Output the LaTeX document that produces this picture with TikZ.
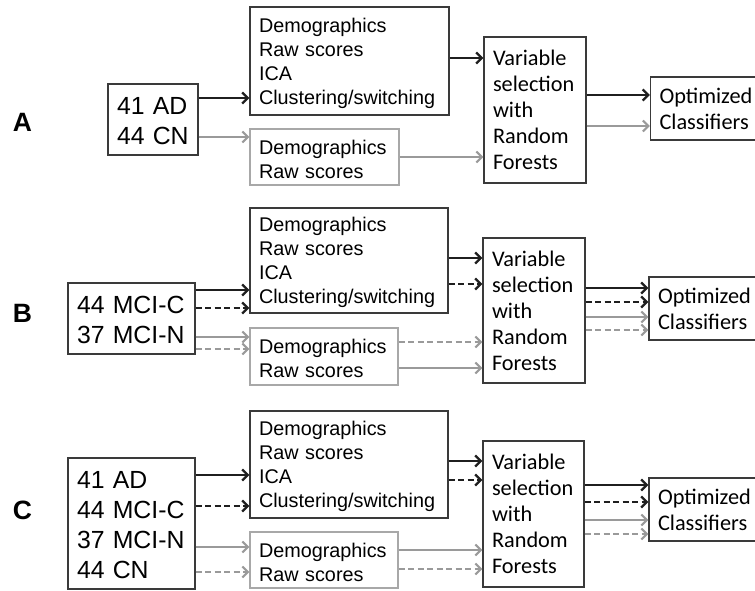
\documentclass[tikz,border=0pt]{standalone}
\usepackage{fontspec}
\setmainfont{Liberation Sans}
\newfontfamily\calf{Carlito}
\usetikzlibrary{arrows.meta}
\hyphenpenalty=10000
\exhyphenpenalty=10000
\definecolor{dk}{HTML}{3A3A3A}
\definecolor{lt}{HTML}{A8A8A8}
\definecolor{ga}{HTML}{9A9A9A}
\tikzset{
 box/.style={draw=dk, line width=1.4pt, inner xsep=9pt, inner ysep=0pt, align=left, anchor=center},
 lbox/.style={box, draw=lt},
 infont/.style={font=\fontsize{24.8}{30}\selectfont, execute at begin node={\rule{0pt}{21pt}}},
 ftfont/.style={font=\fontsize{19.8}{24}\selectfont, execute at begin node={\rule{0pt}{19pt}}},
 cafont/.style={font=\calf\fontsize{22.3}{26}\selectfont},
 arr/.style={line width=2.3pt, -{Straight Barb[length=5.5pt,width=11pt]}},
 blk/.style={arr, draw=black!88},
 gry/.style={arr, draw=ga, line width=2.1pt},
 dsh/.style={dash pattern=on 6pt off 3.5pt},
 plab/.style={font=\bfseries\fontsize{26.5}{30}\selectfont, inner sep=0pt},
}
\begin{document}
\begin{tikzpicture}[x=1pt,y=-1pt]
\useasboundingbox (0,0) rectangle (755,591);
\clip (0,0) rectangle (755,591);
% ---------------- Panel A ----------------
\node[plab] (labA) at (22.5,122) {A};
\node[box,infont,text width=72pt,minimum height=71pt] (inA) at (153,119.5) {41 AD\\44 CN};
\node[box,ftfont,text width=181pt,minimum height=108pt] (topA) at (349.5,61) {Demographics\\Raw scores\\ICA\\Clustering/switching};
\node[lbox,ftfont,text width=131pt,minimum height=56pt] (grA) at (324.5,157) {Demographics\\Raw scores};
\node[box,cafont,text width=84pt,minimum height=146pt] (varA) at (535,110) {Variable\\selection\\with\\Random\\Forests};
\node[box,cafont,text width=95pt,minimum height=63pt] (optA) at (707,108.5) {Optimized\\Classifiers};
\draw[blk] (inA.east |- 0,98) -- (topA.west |- 0,98);
\draw[gry] (inA.east |- 0,137) -- (grA.west |- 0,137);
\draw[blk] (topA.east |- 0,58) -- (varA.west |- 0,58);
\draw[gry] (grA.east |- 0,157) -- (varA.west |- 0,157);
\draw[blk] (varA.east |- 0,95) -- (optA.west |- 0,95);
\draw[gry] (varA.east |- 0,126) -- (optA.west |- 0,126);
% ---------------- Panel B ----------------
\node[plab] (labB) at (22.5,313) {B};
\node[box,infont,text width=109pt,minimum height=71pt] (inB) at (131.5,318.5) {44 MCI-C\\37 MCI-N};
\node[box,ftfont,text width=180pt,minimum height=105pt] (topB) at (349,260.5) {Demographics\\Raw scores\\ICA\\Clustering/switching};
\node[lbox,ftfont,text width=130pt,minimum height=57pt] (grB) at (324,356.5) {Demographics\\Raw scores};
\node[box,cafont,text width=84pt,minimum height=145pt] (varB) at (534,310.5) {Variable\\selection\\with\\Random\\Forests};
\node[box,cafont,text width=95pt,minimum height=63pt] (optB) at (705.5,308.5) {Optimized\\Classifiers};
\draw[blk] (inB.east |- 0,290) -- (topB.west |- 0,290);
\draw[blk,dsh] (inB.east |- 0,308) -- (topB.west |- 0,308);
\draw[gry] (inB.east |- 0,337) -- (grB.west |- 0,337);
\draw[gry,dsh] (inB.east |- 0,349) -- (grB.west |- 0,349);
\draw[blk] (topB.east |- 0,258) -- (varB.west |- 0,258);
\draw[blk,dsh] (topB.east |- 0,284) -- (varB.west |- 0,284);
\draw[gry,dsh] (grB.east |- 0,342) -- (varB.west |- 0,342);
\draw[gry] (grB.east |- 0,368) -- (varB.west |- 0,368);
\draw[blk] (varB.east |- 0,288) -- (optB.west |- 0,288);
\draw[blk,dsh] (varB.east |- 0,302) -- (optB.west |- 0,302);
\draw[gry] (varB.east |- 0,317) -- (optB.west |- 0,317);
\draw[gry,dsh] (varB.east |- 0,330) -- (optB.west |- 0,330);
% ---------------- Panel C ----------------
\node[plab] (labC) at (22.5,510) {C};
\node[box,infont,text width=109pt,minimum height=131pt] (inC) at (131.5,523.5) {41 AD\\44 MCI-C\\37 MCI-N\\44 CN};
\node[box,ftfont,text width=180pt,minimum height=107pt] (topC) at (349,464.5) {Demographics\\Raw scores\\ICA\\Clustering/switching};
\node[lbox,ftfont,text width=130pt,minimum height=56pt] (grC) at (324,560) {Demographics\\Raw scores};
\node[box,cafont,text width=83pt,minimum height=146pt] (varC) at (533.5,514) {Variable\\selection\\with\\Random\\Forests};
\node[box,cafont,text width=95pt,minimum height=63pt] (optC) at (705.5,509.5) {Optimized\\Classifiers};
\draw[blk] (inC.east |- 0,475) -- (topC.west |- 0,475);
\draw[blk,dsh] (inC.east |- 0,506) -- (topC.west |- 0,506);
\draw[gry] (inC.east |- 0,547) -- (grC.west |- 0,547);
\draw[gry,dsh] (inC.east |- 0,572) -- (grC.west |- 0,572);
\draw[blk] (topC.east |- 0,461) -- (varC.west |- 0,461);
\draw[blk,dsh] (topC.east |- 0,480) -- (varC.west |- 0,480);
\draw[gry] (grC.east |- 0,550) -- (varC.west |- 0,550);
\draw[gry,dsh] (grC.east |- 0,569) -- (varC.west |- 0,569);
\draw[blk] (varC.east |- 0,485) -- (optC.west |- 0,485);
\draw[blk,dsh] (varC.east |- 0,502) -- (optC.west |- 0,502);
\draw[gry] (varC.east |- 0,520) -- (optC.west |- 0,520);
\draw[gry,dsh] (varC.east |- 0,534) -- (optC.west |- 0,534);
\end{tikzpicture}
\end{document}
